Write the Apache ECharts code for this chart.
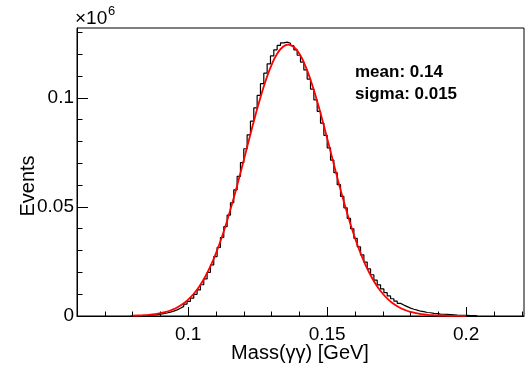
<!DOCTYPE html>
<html><head><meta charset="utf-8">
<script src="https://cdn.jsdelivr.net/npm/echarts@6/dist/echarts.min.js"></script>
<style>html,body{margin:0;padding:0;background:#fff}#c{width:532px;height:374px}</style>
</head><body><div id="c"></div>
<script>
// Histogram binning (x in GeV) and bin contents (in units of 10^6 events)
const binStart = 0.0792;
const binWidth = 0.0012;
const counts = [
  0.00008, 0.00011, 0.00015, 0.0002, 0.00027, 0.00035, 0.00047, 0.00062, 0.00081, 0.00106,
  0.00137, 0.00175, 0.00223, 0.00282, 0.00354, 0.00442, 0.00546, 0.00672, 0.0082, 0.00995,
  0.01197, 0.01432, 0.01698, 0.02, 0.02343, 0.02723, 0.03141, 0.03599, 0.04095, 0.04626,
  0.05191, 0.05782, 0.06397, 0.07027, 0.07666, 0.08303, 0.08929, 0.09537, 0.1011, 0.1065,
  0.1113, 0.1156, 0.1192, 0.122, 0.124, 0.1252, 0.1255, 0.125, 0.1239, 0.122,
  0.1195, 0.1164, 0.1128, 0.1086, 0.104, 0.0991, 0.0938, 0.0884, 0.0828, 0.0771,
  0.0714, 0.0657, 0.0602, 0.0548, 0.0496, 0.0447, 0.04, 0.0356, 0.0317, 0.028,
  0.0247, 0.0216, 0.0189, 0.0164, 0.0143, 0.0124, 0.0107, 0.0092, 0.0079, 0.0068,
  0.0058, 0.005, 0.0043, 0.0036, 0.0031, 0.0027, 0.0022, 0.002, 0.0016, 0.0015,
  0.0012, 0.0011, 0.0009, 0.0008, 0.0007, 0.0006, 0.0005, 0.0004, 0.00035, 0.0003,
  0.00025, 0.0002, 0.00015, 0.0001
];
// Fit curve
const fitX = [
  0.080, 0.082, 0.084, 0.086, 0.088, 0.090, 0.092, 0.094, 0.096, 0.098,
  0.100, 0.102, 0.104, 0.106, 0.108, 0.110, 0.112, 0.114, 0.116, 0.118,
  0.120, 0.122, 0.124, 0.126, 0.128, 0.130, 0.132, 0.134, 0.136, 0.138,
  0.140, 0.142, 0.144, 0.146, 0.148, 0.150, 0.152, 0.154, 0.156, 0.158,
  0.160, 0.162, 0.164, 0.166, 0.168, 0.170, 0.172, 0.174, 0.176, 0.178,
  0.180, 0.182, 0.184, 0.186, 0.188, 0.190, 0.192, 0.194, 0.196, 0.198, 0.200
];
const fitY = [
  0.00014, 0.00023, 0.00036, 0.00056, 0.00085, 0.00128, 0.00188, 0.00274, 0.0039, 0.00547,
  0.00754, 0.01019, 0.01357, 0.01774, 0.0228, 0.0288, 0.03575, 0.04365, 0.05235, 0.0617,
  0.0715, 0.0814, 0.0911, 0.1002, 0.1083, 0.1151, 0.1202, 0.1233, 0.1244, 0.1233,
  0.1202, 0.1151, 0.1083, 0.1002, 0.0911, 0.0814, 0.0715, 0.0617, 0.05235, 0.04365,
  0.03575, 0.0288, 0.0228, 0.01774, 0.01357, 0.01019, 0.00754, 0.00547, 0.0039, 0.00274,
  0.00188, 0.00128, 0.00085, 0.00056, 0.00036, 0.00023, 0.00014, 0.00009, 0.00005, 0.00003, 0.00002
];
const xMajorTicks = [0.1, 0.15, 0.2];
const xMinorTicks = [0.07, 0.08, 0.09, 0.11, 0.12, 0.13, 0.14, 0.16, 0.17, 0.18, 0.19, 0.21, 0.22];
const yMajorTicks = [0, 0.05, 0.1];
const yMinorTicks = [0.01, 0.02, 0.03, 0.04, 0.06, 0.07, 0.08, 0.09, 0.11, 0.12, 0.13];
const xRange = [0.06, 0.2208];
const yRange = [0, 0.132];
const xTitle = 'Mass(γγ) [GeV]';
const yTitle = 'Events';
const statLines = ['mean: 0.14', 'sigma: 0.015'];

const FF = '"Liberation Sans", Arial, Helvetica, sans-serif';
const fmt = v => String(+(+v).toFixed(4));

const histPts = [[binStart, 0]];
counts.forEach((v, i) => {
  const lo = binStart + i * binWidth, hi = lo + binWidth;
  histPts.push([lo, v], [hi, v]);
});
histPts.push([binStart + counts.length * binWidth, 0]);
const fitPts = fitX.map((x, i) => [x, fitY[i]]);

const chart = echarts.init(document.getElementById('c'), null, {renderer: 'canvas'});
const axisBase = (min, max) => ({
  type: 'value', min, max, splitLine: {show: false}
});
chart.setOption({
  animation: false,
  backgroundColor: '#fff',
  grid: {left: 77, top: 28, width: 447, height: 288, show: true, borderColor: '#000', borderWidth: 1},
  xAxis: [
    Object.assign(axisBase(xRange[0], xRange[1]), {
      position: 'bottom',
      axisLine: {show: true, lineStyle: {color: '#000', width: 1}},
      axisTick: {show: true, inside: true, length: 9, customValues: xMajorTicks, lineStyle: {color: '#000', width: 1}},
      axisLabel: {show: true, customValues: xMajorTicks, formatter: fmt, color: '#000', fontSize: 19, fontFamily: FF, margin: 9}
    }),
    Object.assign(axisBase(xRange[0], xRange[1]), {
      position: 'bottom',
      axisLine: {show: false},
      axisTick: {show: true, inside: true, length: 4.5, customValues: xMinorTicks, lineStyle: {color: '#000', width: 1}},
      axisLabel: {show: false}
    })
  ],
  yAxis: [
    Object.assign(axisBase(yRange[0], yRange[1]), {
      position: 'left',
      axisLine: {show: true, lineStyle: {color: '#000', width: 1}},
      axisTick: {show: true, inside: true, length: 11, customValues: yMajorTicks, lineStyle: {color: '#000', width: 1}},
      axisLabel: {show: true, customValues: yMajorTicks, formatter: fmt, color: '#000', fontSize: 19, fontFamily: FF, margin: 3}
    }),
    Object.assign(axisBase(yRange[0], yRange[1]), {
      position: 'left',
      axisLine: {show: false},
      axisTick: {show: true, inside: true, length: 5.5, customValues: yMinorTicks, lineStyle: {color: '#000', width: 1}},
      axisLabel: {show: false}
    })
  ],
  series: [
    {
      type: 'line', xAxisIndex: 0, yAxisIndex: 0, data: histPts,
      showSymbol: false, symbol: 'none', clip: true,
      lineStyle: {color: '#000', width: 1.2}
    },
    {
      type: 'line', xAxisIndex: 0, yAxisIndex: 0, data: fitPts,
      showSymbol: false, symbol: 'none', smooth: true, clip: true,
      lineStyle: {color: '#ff0000', width: 1.8}
    }
  ],
  graphic: [
    {type: 'text', x: 75, y: 19, style: {text: '×10', font: '19px ' + FF, fill: '#000', align: 'left', verticalAlign: 'middle'}},
    {type: 'text', x: 108, y: 11, style: {text: '6', font: '13px ' + FF, fill: '#000', align: 'left', verticalAlign: 'middle'}},
    {type: 'text', x: 355, y: 72, style: {text: statLines[0], font: 'bold 17px ' + FF, fill: '#000', align: 'left', verticalAlign: 'middle'}},
    {type: 'text', x: 355, y: 94, style: {text: statLines[1], font: 'bold 17px ' + FF, fill: '#000', align: 'left', verticalAlign: 'middle'}},
    {type: 'text', x: 300, y: 353, style: {text: xTitle, font: '20px ' + FF, fill: '#000', align: 'center', verticalAlign: 'middle'}},
    {type: 'text', x: 28, y: 186, rotation: Math.PI / 2, style: {text: yTitle, font: '20px ' + FF, fill: '#000', align: 'center', verticalAlign: 'middle'}}
  ]
});
</script></body></html>
